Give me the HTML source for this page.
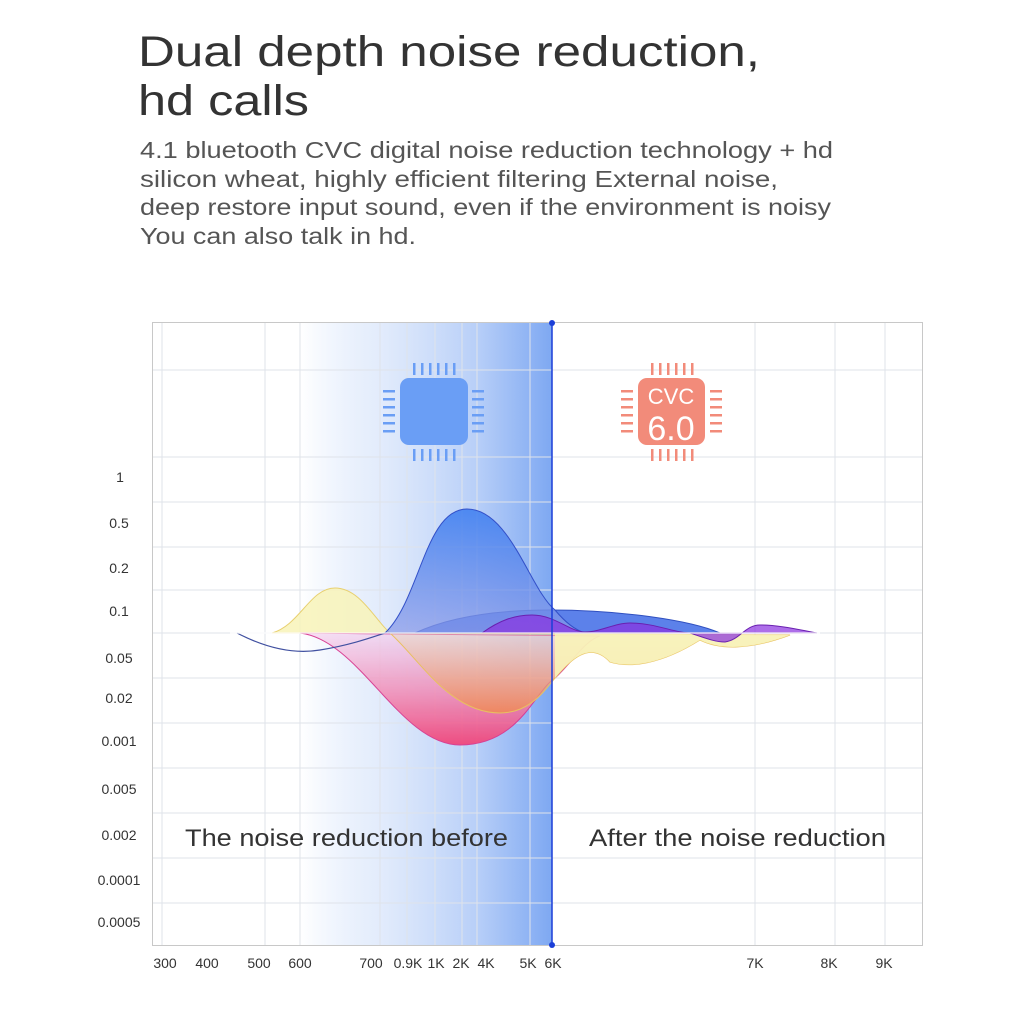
<!DOCTYPE html>
<html><head><style>
body{margin:0;background:#fff;width:1024px;height:1024px;overflow:hidden}
svg text{font-family:"Liberation Sans",sans-serif}
</style></head><body>
<svg width="1024" height="1024" viewBox="0 0 1024 1024" xmlns="http://www.w3.org/2000/svg">
<defs>
<linearGradient id="band" x1="0" x2="1" y1="0" y2="0">
<stop offset="0" stop-color="#cfe0fb" stop-opacity="0"/>
<stop offset="0.3" stop-color="#dde8fb" stop-opacity="0.8"/>
<stop offset="0.7" stop-color="#b8cff8"/>
<stop offset="1" stop-color="#7ea8f2"/>
</linearGradient>
<linearGradient id="bluepk" x1="0" x2="0" y1="0" y2="1">
<stop offset="0" stop-color="#3a7cf0"/><stop offset="1" stop-color="#8a9ae8" stop-opacity="0.85"/>
</linearGradient>
<linearGradient id="pink" x1="0" x2="0" y1="0" y2="1">
<stop offset="0" stop-color="#f5d0ef" stop-opacity="0.7"/><stop offset="1" stop-color="#f0457a"/>
</linearGradient>
<linearGradient id="orng" x1="0" x2="0" y1="0" y2="1">
<stop offset="0" stop-color="#e8d8c0" stop-opacity="0.6"/><stop offset="1" stop-color="#f08a50"/>
</linearGradient>
</defs>
<text x="138" y="66" font-size="43" fill="#333" textLength="622" lengthAdjust="spacingAndGlyphs">Dual depth noise reduction,</text>
<text x="138" y="115" font-size="43" fill="#333" textLength="171" lengthAdjust="spacingAndGlyphs">hd calls</text>
<g font-size="23" fill="#555">
<text x="140" y="158" textLength="693" lengthAdjust="spacingAndGlyphs">4.1 bluetooth CVC digital noise reduction technology + hd</text>
<text x="140" y="187" textLength="638" lengthAdjust="spacingAndGlyphs">silicon wheat, highly efficient filtering External noise,</text>
<text x="140" y="215" textLength="691" lengthAdjust="spacingAndGlyphs">deep restore input sound, even if the environment is noisy</text>
<text x="140" y="244" textLength="276" lengthAdjust="spacingAndGlyphs">You can also talk in hd.</text>
</g>
<rect x="300" y="323" width="252" height="622" fill="url(#band)"/>
<g stroke="#dfe3ea" stroke-width="1">
<line x1="152" x2="922" y1="370" y2="370"/><line x1="152" x2="922" y1="457" y2="457"/>
<line x1="152" x2="922" y1="502" y2="502"/><line x1="152" x2="922" y1="547" y2="547"/>
<line x1="152" x2="922" y1="590" y2="590"/><line x1="152" x2="922" y1="633" y2="633"/>
<line x1="152" x2="922" y1="678" y2="678"/><line x1="152" x2="922" y1="723" y2="723"/>
<line x1="152" x2="922" y1="768" y2="768"/><line x1="152" x2="922" y1="813" y2="813"/>
<line x1="152" x2="922" y1="858" y2="858"/><line x1="152" x2="922" y1="903" y2="903"/>
<line y1="323" y2="945" x1="162" x2="162"/><line y1="323" y2="945" x1="265" x2="265"/>
<line y1="323" y2="945" x1="300" x2="300"/><line y1="323" y2="945" x1="380" x2="380"/>
<line y1="323" y2="945" x1="407" x2="407"/><line y1="323" y2="945" x1="435" x2="435"/>
<line y1="323" y2="945" x1="462" x2="462"/><line y1="323" y2="945" x1="477" x2="477"/>
<line y1="323" y2="945" x1="530" x2="530"/><line y1="323" y2="945" x1="755" x2="755"/>
<line y1="323" y2="945" x1="835" x2="835"/><line y1="323" y2="945" x1="885" x2="885"/>
</g>
<rect x="152.5" y="322.5" width="770" height="623" fill="none" stroke="#c8c8c8"/>
<path d="M272 633 C300 625 310 588 335 588 C360 588 375 620 390 633 L272 633Z" fill="#f8f3b8" fill-opacity="0.85" stroke="#e8d070" stroke-width="1"/>
<path d="M300 633 C360 640 400 745 460 745 C520 745 535 690 555 678 C570 665 585 640 600 636 L300 633Z" fill="url(#pink)" stroke="#d83a90" stroke-width="1" opacity="0.95"/>
<path d="M390 633 C420 660 450 713 500 713 C530 713 545 690 555 678 C570 660 590 640 610 662 C630 668 660 665 700 640 C720 650 750 650 790 635 L390 633Z" fill="url(#orng)" fill-opacity="0.8" stroke="#e8c060" stroke-width="1"/>
<path d="M555 678 C570 660 590 640 610 662 C630 668 660 665 700 640 C720 650 750 650 790 635 L555 633Z" fill="#f8f3b8" fill-opacity="0.9"/>
<path d="M415 633 C460 612 520 610 550 610 C620 610 690 620 720 633Z" fill="#3f6be6" fill-opacity="0.85" stroke="#3050c0" stroke-width="1"/>
<path d="M385 633 C420 600 425 509 467 509 C510 509 530 590 555 610 C565 622 575 630 585 633Z" fill="url(#bluepk)" fill-opacity="0.85" stroke="#3350c8" stroke-width="1"/>
<path d="M237 633 C260 645 290 655 320 650 C350 645 370 638 385 633" fill="none" stroke="#4050a0" stroke-width="1.2"/>
<path d="M482 633 C500 620 515 615 532 615 C555 615 570 632 585 632 C600 632 615 623 630 623 C655 623 675 633 690 633 C705 638 715 642 725 642 C740 640 745 625 760 625 C780 625 800 630 817 633Z" fill="#8a30e0" fill-opacity="0.7" stroke="#6a20b0" stroke-width="1"/>
<line x1="230" x2="820" y1="633" y2="633" stroke="#fff" stroke-opacity="0.8" stroke-width="1.5"/>
<line x1="552" x2="552" y1="323" y2="945" stroke="#1b3fd8" stroke-width="1.5"/>
<circle cx="552" cy="323" r="3" fill="#1b3fd8"/><circle cx="552" cy="945" r="3" fill="#1b3fd8"/>
<g fill="#6a9ef5">
<rect x="400" y="378" width="68" height="67" rx="9"/>
<g id="tp"><rect x="413" y="363" width="2.5" height="12"/><rect x="421" y="363" width="2.5" height="12"/><rect x="429" y="363" width="2.5" height="12"/><rect x="437" y="363" width="2.5" height="12"/><rect x="445" y="363" width="2.5" height="12"/><rect x="453" y="363" width="2.5" height="12"/></g>
<use href="#tp" y="86"/>
<g id="sp"><rect x="383" y="390" width="12" height="2.5"/><rect x="383" y="398" width="12" height="2.5"/><rect x="383" y="406" width="12" height="2.5"/><rect x="383" y="414" width="12" height="2.5"/><rect x="383" y="422" width="12" height="2.5"/><rect x="383" y="430" width="12" height="2.5"/></g>
<use href="#sp" x="89"/>
</g>
<g fill="#f28b7a">
<rect x="638" y="378" width="67" height="67" rx="9"/>
<use href="#tp" x="238"/><use href="#tp" x="238" y="86"/>
<use href="#sp" x="238"/><use href="#sp" x="327"/>
</g>
<text x="671" y="404" font-size="22" fill="#fff" text-anchor="middle">CVC</text>
<text x="671" y="440" font-size="34" fill="#fff" text-anchor="middle">6.0</text>
<text x="185" y="846" font-size="24" fill="#333" textLength="323" lengthAdjust="spacingAndGlyphs">The noise reduction before</text>
<text x="589" y="846" font-size="24" fill="#333" textLength="297" lengthAdjust="spacingAndGlyphs">After the noise reduction</text>
<g font-size="14" fill="#333" text-anchor="middle">
<text x="120" y="482">1</text><text x="119" y="528">0.5</text><text x="119" y="573">0.2</text>
<text x="119" y="616">0.1</text><text x="119" y="663">0.05</text><text x="119" y="703">0.02</text>
<text x="119" y="746">0.001</text><text x="119" y="794">0.005</text><text x="119" y="840">0.002</text>
<text x="119" y="885">0.0001</text><text x="119" y="927">0.0005</text>
<text x="165" y="968">300</text><text x="207" y="968">400</text><text x="259" y="968">500</text>
<text x="300" y="968">600</text><text x="371" y="968">700</text><text x="408" y="968">0.9K</text>
<text x="436" y="968">1K</text><text x="461" y="968">2K</text><text x="486" y="968">4K</text>
<text x="528" y="968">5K</text><text x="553" y="968">6K</text><text x="755" y="968">7K</text>
<text x="829" y="968">8K</text><text x="884" y="968">9K</text>
</g>
</svg>
</body></html>
